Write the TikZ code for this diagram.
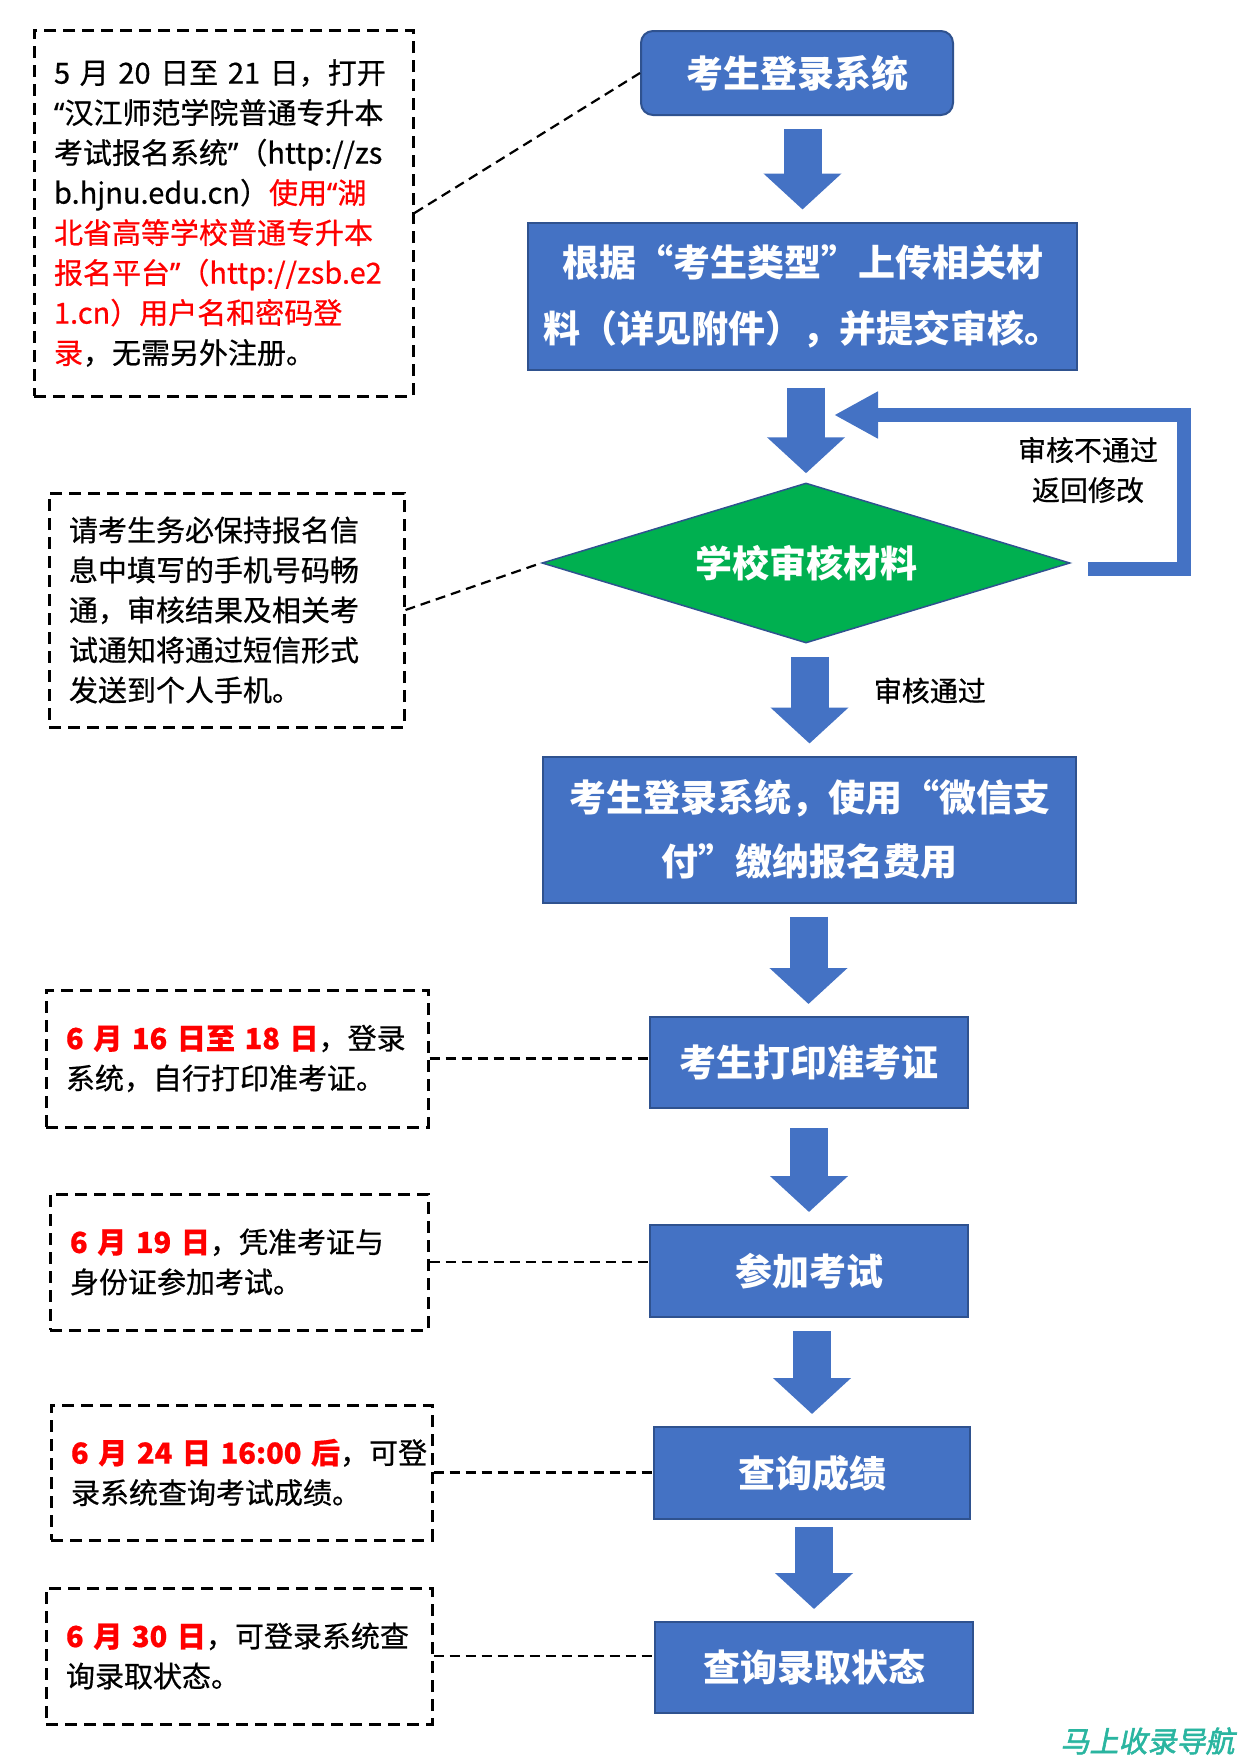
\documentclass[tikz,border=0pt]{standalone}
\usepackage{fontspec}
\setmainfont{Noto Sans CJK SC}
\newfontfamily\notefont[FakeBold=0.6]{Noto Sans CJK SC}
\newfontfamily\quotefont[FakeBold=0.6]{Noto Sans}
\newfontfamily\markfont[FakeSlant=0.2,FakeBold=2]{Noto Sans CJK SC}
\usetikzlibrary{shapes.geometric, arrows.meta}
\definecolor{boxblue}{HTML}{4472C4}
\definecolor{edgeblue}{HTML}{2F528F}
\definecolor{checkgreen}{HTML}{00B050}
\definecolor{datered}{HTML}{FF0000}
\definecolor{markteal}{HTML}{2AB5A0}
\newcommand{\redtext}[1]{\textcolor{datered}{#1}}
\newcommand{\oq}{{\quotefont “}}
\newcommand{\cq}{{\quotefont ”}}

\begin{document}
\begin{tikzpicture}[x=1pt,y=-1pt,
    stepbox/.style={draw=edgeblue,line width=2pt,fill=boxblue,text=white,align=center,inner sep=0pt,font=\fontsize{37}{66}\selectfont\bfseries},
    checkbox/.style={diamond,aspect=3.3,draw=edgeblue,line width=1.5pt,fill=checkgreen,text=white,inner sep=0pt,font=\fontsize{37}{44}\selectfont\bfseries},
    notebox/.style={draw,line width=3pt,dash pattern=on 12pt off 7pt,align=left,inner xsep=20pt,font=\notefont\fontsize{29}{40}\selectfont},
    bigarrow/.style={draw=boxblue,line width=38pt,-{Triangle[width=76pt,length=36pt]},shorten <=13pt,shorten >=12pt},
    backarrow/.style={draw=boxblue,line width=14pt,-{Triangle[width=44pt,length=44pt]}},
    link/.style={line width=2.2pt,dash pattern=on 10pt off 6pt},
    sidetext/.style={font=\notefont\fontsize{28}{40}\selectfont,align=center}]
    \useasboundingbox (0,0) rectangle (1242,1762);

    \node[stepbox,rounded corners=12pt,minimum width=312pt,minimum height=84pt] (login) at (797,73) {考生登录系统};
    \node[stepbox,minimum width=549pt,minimum height=147pt] (upload) at (802.5,296) {根据“考生类型”上传相关材\\料（详见附件），并提交审核。};
    \node[checkbox,minimum width=528pt,minimum height=160pt] (check) at (806,563) {学校审核材料};
    \node[stepbox,minimum width=533pt,minimum height=146pt,font=\fontsize{37}{64}\selectfont\bfseries] (pay) at (809.5,829.5) {考生登录系统，使用“微信支\\付”缴纳报名费用};
    \node[stepbox,minimum width=318pt,minimum height=91pt] (ticket) at (808.5,1062.5) {考生打印准考证};
    \node[stepbox,minimum width=318pt,minimum height=92pt] (exam) at (809,1271) {参加考试};
    \node[stepbox,minimum width=316pt,minimum height=92pt] (score) at (812,1473) {查询成绩};
    \node[stepbox,minimum width=318pt,minimum height=91pt] (admit) at (814,1667.5) {查询录取状态};

    \draw[bigarrow] (upload.north |- login.south) -- (upload.north);
    \draw[bigarrow,shorten <=17pt,shorten >=9pt] (check.north |- upload.south) -- (check.north);
    \draw[bigarrow] (pay.north |- check.south) -- node[sidetext,anchor=west,xshift=42pt,yshift=9pt] (passnote) {审核通过} (pay.north);
    \draw[bigarrow] (ticket.north |- pay.south) -- (ticket.north);
    \draw[bigarrow,shorten <=19pt] (exam.north |- ticket.south) -- (exam.north);
    \draw[bigarrow] (score.north |- exam.south) -- (score.north);
    \draw[bigarrow,shorten <=7pt] (admit.north |- score.south) -- (admit.north);

    \coordinate (backcorner) at (1184,415);
    \coordinate (backend) at (834,415);
    \draw[backarrow] ([xshift=17pt,yshift=-6pt]check.east) -| (backcorner) -- (backend);
    \node[sidetext] (backnote) at (1088,470) {审核不通过\\返回修改};

    \node[notebox,text width=339pt,minimum height=366pt] (nlogin) at (223.5,213) {5~月~20~日至~21~日，打开\\\oq 汉江师范学院普通专升本\\考试报名系统\cq（http://zs\\b.hjnu.edu.cn）\redtext{使用\oq 湖}\\\redtext{北省高等学校普通专升本}\\\redtext{报名平台\cq（http://zsb.e2}\\\redtext{1.cn）用户名和密码登}\\\redtext{录}，无需另外注册。};
    \node[notebox,text width=315pt,minimum height=234pt] (nphone) at (226.5,610) {请考生务必保持报名信\\息中填写的手机号码畅\\通，审核结果及相关考\\试通知将通过短信形式\\发送到个人手机。};
    \node[notebox,text width=342pt,minimum height=137pt] (nticket) at (237,1058.5) {\redtext{\bfseries 6~月~16~日至~18~日}，登录\\系统，自行打印准考证。};
    \node[notebox,text width=338pt,minimum height=136pt] (nexam) at (239,1262) {\redtext{\bfseries 6~月~19~日}，凭准考证与\\身份证参加考试。};
    \node[notebox,text width=341pt,minimum height=135pt] (nscore) at (241.5,1472.5) {\redtext{\bfseries 6~月~24~日~16:00~后}，可登\\录系统查询考试成绩。};
    \node[notebox,text width=346pt,minimum height=136pt] (nadmit) at (239,1656) {\redtext{\bfseries 6~月~30~日}，可登录系统查\\询录取状态。};

    \draw[link] (nlogin.east) -- (login.west);
    \draw[link] (nphone.east) -- (check.west);
    \draw[link] (nticket.east) -- (nticket.east -| ticket.west);
    \draw[link] (nexam.east) -- (nexam.east -| exam.west);
    \draw[link] (nscore.east) -- (nscore.east -| score.west);
    \draw[link] (nadmit.east) -- (nadmit.east -| admit.west);

    \node[font=\markfont\fontsize{29}{30}\selectfont,text=markteal,anchor=east] (mark) at (1238,1741) {马上收录导航};
\end{tikzpicture}
\end{document}
